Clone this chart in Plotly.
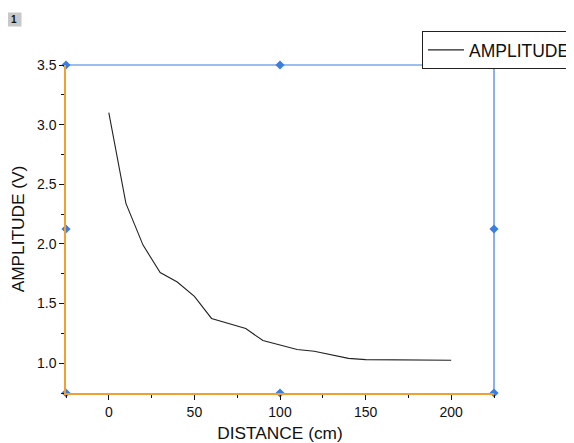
import plotly.graph_objects as go

distance = [0, 10, 20, 30, 40, 50, 60, 70, 80, 90, 100, 110, 120, 130, 140, 150, 160, 170, 180, 190, 200]
amplitude = [3.10, 2.34, 1.99, 1.76, 1.68, 1.56, 1.375, 1.33, 1.29, 1.19, 1.15, 1.115, 1.10, 1.07, 1.04, 1.03, 1.03, 1.03, 1.03, 1.028, 1.025]

x_range = [-25, 225]
y_range = [0.75, 3.5]
x_ticks = [0, 50, 100, 150, 200]
y_ticks = [1.0, 1.5, 2.0, 2.5, 3.0, 3.5]

FONT = "Liberation Sans, Arial, sans-serif"
ORANGE = "#F0A030"
BLUE = "#3A7FE0"

# page body has an 8px default margin: figure is offset by (8, 8)
OFF = 8
W, H = 574, 443 - OFF
ML, MR, MT, MB = 66 - OFF, 574 + OFF - 494, 65 - OFF, 50
pw = W - ML - MR
ph = H - MT - MB


def px_x(px):
    return (px - OFF - ML) / pw


def px_y(py):
    return (H - MB - (py - OFF)) / ph


fig = go.Figure()
fig.add_trace(go.Scatter(
    x=distance, y=amplitude, mode="lines", name="AMPLITUDE",
    line=dict(color="#222222", width=1.1),
))

# selection handles (overlay axes in [0,1])
hx = [0, 0.5, 1, 0, 1, 0, 0.5, 1]
hy = [0, 0, 0, 0.5, 0.5, 1, 1, 1]
fig.add_trace(go.Scatter(
    x=hx, y=hy, xaxis="x2", yaxis="y2", mode="markers", showlegend=False,
    marker=dict(symbol="diamond", size=7, color=BLUE, line=dict(width=0)),
    cliponaxis=False, hoverinfo="skip",
))

fig.update_layout(
    width=W, height=H,
    margin=dict(l=ML, r=MR, t=MT, b=MB, autoexpand=False),
    paper_bgcolor="white", plot_bgcolor="white",
    font=dict(family=FONT, color="#111111"),
    showlegend=True,
    legend=dict(
        x=px_x(422), y=px_y(31), xanchor="left", yanchor="top",
        bordercolor="#222222", borderwidth=1, bgcolor="white",
        font=dict(size=17.5, family=FONT, color="#111111"),
        tracegroupgap=0, itemwidth=36,
    ),
    xaxis=dict(
        range=x_range, tickvals=x_ticks, showgrid=False, zeroline=False,
        showline=True, linecolor=ORANGE, linewidth=1.5, mirror=False,
        ticks="outside", ticklen=5, tickcolor="#111111", tickwidth=1,
        minor=dict(dtick=25, ticks="outside", ticklen=3, tickcolor="#111111", showgrid=False),
        tickfont=dict(size=14, family=FONT),
        title=dict(text="DISTANCE (cm)", font=dict(size=17.3, family=FONT), standoff=11),
    ),
    yaxis=dict(
        range=y_range, tickvals=y_ticks, ticktext=["1.0", "1.5", "2.0", "2.5", "3.0", "3.5"],
        showgrid=False, zeroline=False,
        showline=True, linecolor=ORANGE, linewidth=1.5, mirror=False,
        ticks="outside", ticklen=5, tickcolor="#111111", tickwidth=1,
        minor=dict(dtick=0.25, ticks="outside", ticklen=3, tickcolor="#111111", showgrid=False),
        tickfont=dict(size=14, family=FONT),
        title=dict(text="AMPLITUDE (V)", font=dict(size=17.3, family=FONT), standoff=9),
    ),
    xaxis2=dict(overlaying="x", range=[0, 1], visible=False, fixedrange=True),
    yaxis2=dict(overlaying="y", range=[0, 1], visible=False, fixedrange=True),
    shapes=[
        dict(type="line", xref="paper", yref="paper", x0=0, x1=1, y0=1, y1=1,
             line=dict(color=BLUE, width=1.2)),
        dict(type="line", xref="paper", yref="paper", x0=1, x1=1, y0=0, y1=1,
             line=dict(color=BLUE, width=1.2)),
    ],
    annotations=[
        dict(text="<b>1</b>", x=px_x(14), y=px_y(19), xref="paper", yref="paper",
             xanchor="center", yanchor="middle",
             showarrow=False, font=dict(size=10, family=FONT, color="#111111"),
             bgcolor="#C8C8C8", borderpad=2, width=10, height=9),
    ],
)

fig.write_html("out.html")
